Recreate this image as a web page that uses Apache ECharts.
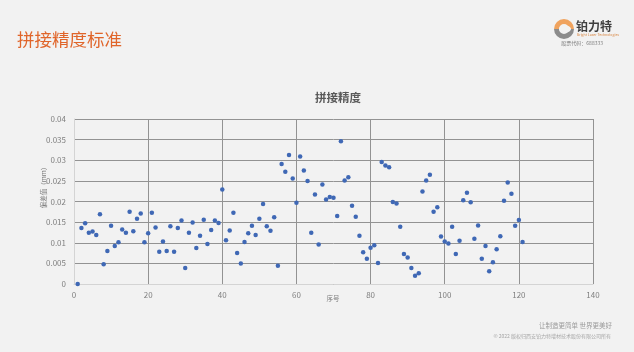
<!DOCTYPE html>
<html>
<head>
<meta charset="utf-8">
<script src="https://cdn.jsdelivr.net/npm/echarts@6/dist/echarts.min.js"></script>
<style>
html,body{margin:0;padding:0;background:#f2f2f2;}
#c{width:634px;height:352px;}
</style>
</head>
<body>
<div id="c"></div>
<script>
// index (序号) values
const seqNo = [];
for (let i = 1; i <= 121; i++) seqNo.push(i);
// deviation values (mm)
const deviation = [
  0, 0.0136, 0.0147, 0.0124, 0.0127, 0.0119, 0.0169, 0.0048, 0.0080, 0.0141,
  0.0092, 0.0101, 0.0132, 0.0124, 0.0175, 0.0128, 0.0158, 0.0171, 0.0101, 0.0123,
  0.0173, 0.0137, 0.0078, 0.0103, 0.0080, 0.0140, 0.0078, 0.0136, 0.0154, 0.0039,
  0.0124, 0.0149, 0.0087, 0.0117, 0.0156, 0.0097, 0.0131, 0.0154, 0.0148, 0.0229,
  0.0106, 0.0130, 0.0173, 0.0075, 0.0050, 0.0102, 0.0123, 0.0141, 0.0119, 0.0158,
  0.0194, 0.0140, 0.0129, 0.0162, 0.0044, 0.0291, 0.0272, 0.0313, 0.0256, 0.0197,
  0.0309, 0.0275, 0.0250, 0.0124, 0.0217, 0.0096, 0.0241, 0.0205, 0.0211, 0.0209,
  0.0165, 0.0346, 0.0251, 0.0259, 0.0190, 0.0163, 0.0117, 0.0077, 0.0061, 0.0088,
  0.0094, 0.0051, 0.0296, 0.0287, 0.0283, 0.0199, 0.0195, 0.0139, 0.0073, 0.0064,
  0.0039, 0.0020, 0.0026, 0.0224, 0.0251, 0.0265, 0.0175, 0.0186, 0.0115, 0.0103,
  0.0098, 0.0139, 0.0073, 0.0105, 0.0203, 0.0221, 0.0198, 0.0110, 0.0142, 0.0061,
  0.0092, 0.0031, 0.0053, 0.0084, 0.0116, 0.0202, 0.0246, 0.0219, 0.0141, 0.0155,
  0.0102
];
const xTicks = [0, 20, 40, 60, 80, 100, 120, 140];
const yTicks = [0, 0.005, 0.01, 0.015, 0.02, 0.025, 0.03, 0.035, 0.04];

const points = seqNo.map((x, i) => [x, deviation[i]]);
const chart = echarts.init(document.getElementById('c'));
const font = '"Noto Sans CJK SC", "Noto Sans", sans-serif';
chart.setOption({
  backgroundColor: '#f2f2f2',
  animation: false,
  textStyle: { fontFamily: font },
  title: {
    text: '拼接精度',
    left: 333, top: 87, textAlign: 'center',
    textStyle: { fontSize: 11.5, fontWeight: 'bold', color: '#595959', fontFamily: font }
  },
  grid: { left: 74, right: 41, top: 119, bottom: 68 },
  xAxis: {
    type: 'value', min: 0, max: 140, interval: 20,
    axisLine: { show: true, lineStyle: { color: '#d4d4d4' } },
    axisTick: { show: false },
    axisLabel: { color: '#7f7f7f', fontSize: 8, margin: 7,
      formatter: v => xTicks.includes(v) ? String(v) : '' },
    splitLine: { show: true, lineStyle: { color: '#939393', width: 1 } }
  },
  yAxis: {
    type: 'value', min: 0, max: 0.04, interval: 0.005,
    axisLine: { show: true, lineStyle: { color: '#d4d4d4' } },
    axisTick: { show: false },
    axisLabel: { color: '#7f7f7f', fontSize: 8, margin: 8,
      formatter: v => { const t = yTicks.find(y => Math.abs(y - v) < 1e-9); return t === undefined ? '' : String(t); } },
    splitLine: { show: true, lineStyle: { color: '#939393', width: 1 } }
  },
  series: [{
    type: 'scatter',
    data: points,
    symbol: 'circle',
    symbolSize: 4.5,
    itemStyle: { color: '#3f68b5', opacity: 1 }
  }],
  graphic: [
    { type: 'text', left: 17, top: 31,
      style: { text: '拼接精度标准', fill: '#e0652a', font: '17.5px ' + font } },
    { type: 'text', x: 44, y: 186, rotation: Math.PI / 2,
      style: { text: '偏差值（mm）', fill: '#7f7f7f', font: '6.5px ' + font, textAlign: 'center', textVerticalAlign: 'middle' } },
    { type: 'text', x: 333, y: 299,
      style: { text: '序号', fill: '#7f7f7f', font: '6.5px ' + font, textAlign: 'center', textVerticalAlign: 'middle' } },
    // logo
    { type: 'sector', shape: { cx: 564, cy: 29, r: 10, r0: 5, startAngle: Math.PI, endAngle: Math.PI * 2 },
      style: { fill: '#f0a35e' } },
    { type: 'sector', shape: { cx: 564, cy: 29, r: 10, r0: 5, startAngle: 0, endAngle: Math.PI },
      style: { fill: '#8c8c8c' } },
    { type: 'ellipse', shape: { cx: 565, cy: 29, rx: 6, ry: 3.5 }, style: { fill: '#f2f2f2' } },
    { type: 'text', x: 576, y: 26,
      style: { text: '铂力特', fill: '#3f3f3f', font: 'bold 12px ' + font, textVerticalAlign: 'middle' } },
    { type: 'text', x: 577, y: 34.5,
      style: { text: 'Bright Laser Technologies', fill: '#d8843e', font: '3.5px ' + font, textVerticalAlign: 'middle' } },
    { type: 'text', x: 603, y: 43.5,
      style: { text: '股票代码：688333', fill: '#7f7f7f', font: '5px ' + font, textAlign: 'right', textVerticalAlign: 'middle' } },
    // footer
    { type: 'text', x: 612, y: 325.5,
      style: { text: '让制造更简单 世界更美好', fill: '#9a9a9a', font: '6.5px ' + font, textAlign: 'right', textVerticalAlign: 'middle' } },
    { type: 'text', x: 611, y: 336,
      style: { text: '© 2022 版权归西安铂力特增材技术股份有限公司所有', fill: '#a6a6a6', font: '5px ' + font, textAlign: 'right', textVerticalAlign: 'middle' } }
  ]
});
</script>
</body>
</html>
